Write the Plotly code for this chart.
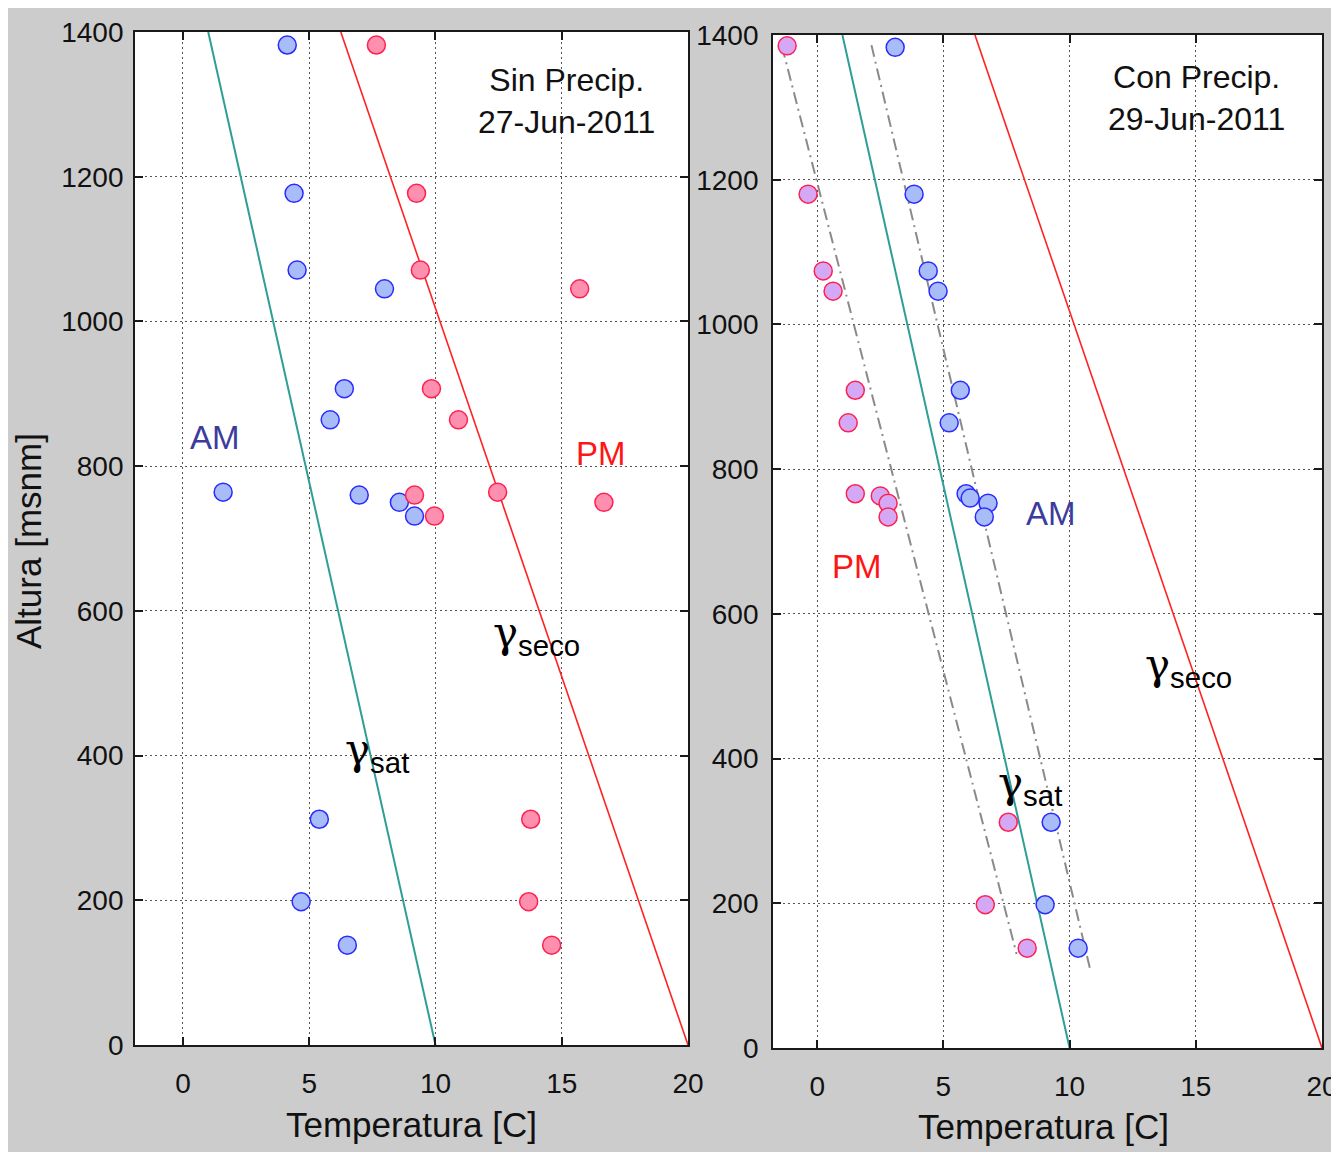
import plotly.graph_objects as go

# ---------------- data ----------------
# Panel 1: Sin Precip. 27-Jun-2011
alt_sin = [1382, 1177, 1071, 1045, 907, 864, 764, 760, 750, 731, 312, 198, 138]
am_sin_T = [4.13, 4.40, 4.52, 7.98, 6.39, 5.83, 1.59, 6.98, 8.57, 9.17, 5.40, 4.68, 6.51]
pm_sin_alt = [1382, 1177, 1071, 1045, 907, 864, 764, 760, 750, 731, 312, 198, 138]
pm_sin_T = [7.66, 9.25, 9.40, 15.71, 9.84, 10.91, 12.46, 9.17, 16.67, 9.96, 13.77, 13.69, 14.60]

# Panel 2: Con Precip. 29-Jun-2011
am_con_alt = [1383, 1180, 1074, 1046, 909, 864, 766, 760, 753, 734, 312, 198, 138]
am_con_T = [3.09, 3.84, 4.40, 4.79, 5.67, 5.23, 5.90, 6.06, 6.77, 6.62, 9.27, 9.03, 10.34]
pm_con_alt = [1385, 1180, 1074, 1046, 909, 864, 766, 763, 753, 734, 312, 198, 138]
pm_con_T = [-1.19, -0.36, 0.24, 0.63, 1.51, 1.23, 1.51, 2.50, 2.81, 2.81, 7.57, 6.66, 8.32]

# Adiabatic reference lines (both panels)
line_alt = [0, 1400]
sat_T = [10.0, 1.0]
seco_T = [20.0, 6.25]

# Fitted dash-dot lines (panel 2)
pm_fit_alt = [1385, 130]
pm_fit_T = [-1.4, 7.9]
am_fit_alt = [1386, 111]
am_fit_T = [2.15, 10.8]

x_ticks = [0, 5, 10, 15, 20]
y_ticks = [0, 200, 400, 600, 800, 1000, 1200, 1400]

# ---------------- styling ----------------
OFF = 8  # page body margin
W, H = 1339 - OFF, 1152 - OFF
BG = "#cccccc"
FONT = "Liberation Sans"
BLUE_FILL, BLUE_EDGE = "#a8bcfa", "#2a2aff"
PINK_FILL, RED_EDGE = "#ff8fae", "#ff2050"
LAV_FILL = "#d5a8f5"
TEAL = "#2e9e96"
RED = "#ff2222"


def px_x(p):
    return (p - OFF) / W


def px_y(p):
    return 1 - (p - OFF) / H


fig = go.Figure()


def add_panel(xa, ya):
    fig.add_trace(go.Scatter(x=sat_T, y=line_alt, mode="lines",
                             line=dict(color=TEAL, width=2), xaxis=xa, yaxis=ya,
                             showlegend=False))
    fig.add_trace(go.Scatter(x=seco_T, y=line_alt, mode="lines",
                             line=dict(color=RED, width=1.6), xaxis=xa, yaxis=ya,
                             showlegend=False))


MS = 18
# panel 1
add_panel("x", "y")
fig.add_trace(go.Scatter(x=am_sin_T, y=alt_sin, mode="markers", xaxis="x", yaxis="y",
                         marker=dict(size=MS, color=BLUE_FILL, line=dict(color=BLUE_EDGE, width=1.5)),
                         showlegend=False))
fig.add_trace(go.Scatter(x=pm_sin_T, y=pm_sin_alt, mode="markers", xaxis="x", yaxis="y",
                         marker=dict(size=MS, color=PINK_FILL, line=dict(color=RED_EDGE, width=1.5)),
                         showlegend=False))

# panel 2
add_panel("x2", "y2")
DASH = "12px,5px,2px,5px"
fig.add_trace(go.Scatter(x=pm_fit_T, y=pm_fit_alt, mode="lines", xaxis="x2", yaxis="y2",
                         line=dict(color="#8a8a8a", width=2, dash=DASH), showlegend=False))
fig.add_trace(go.Scatter(x=am_fit_T, y=am_fit_alt, mode="lines", xaxis="x2", yaxis="y2",
                         line=dict(color="#8a8a8a", width=2, dash=DASH), showlegend=False))
fig.add_trace(go.Scatter(x=am_con_T, y=am_con_alt, mode="markers", xaxis="x2", yaxis="y2",
                         marker=dict(size=MS, color=BLUE_FILL, line=dict(color=BLUE_EDGE, width=1.5)),
                         showlegend=False))
fig.add_trace(go.Scatter(x=pm_con_T, y=pm_con_alt, mode="markers", xaxis="x2", yaxis="y2",
                         marker=dict(size=MS, color=LAV_FILL, line=dict(color=RED_EDGE, width=1.5)),
                         showlegend=False))

axis_common = dict(
    showline=True, linecolor="#1a1a1a", linewidth=1.8, mirror="ticks",
    ticks="inside", ticklen=8, tickcolor="#1a1a1a", tickwidth=1.5,
    showgrid=True, gridcolor="#555555", gridwidth=1, griddash="2px,3px",
    zeroline=False, automargin=False,
    tickfont=dict(family=FONT, size=28, color="#111111"),
)

fig.update_layout(
    width=W, height=H,
    template="none",
    paper_bgcolor=BG, plot_bgcolor="white",
    margin=dict(l=0, r=0, t=0, b=0),
    xaxis=dict(domain=[px_x(135), px_x(688)], range=[-1.9, 20], tickvals=x_ticks,
               anchor="y", ticklabelstandoff=12, **axis_common),
    yaxis=dict(domain=[px_y(1045), px_y(32)], range=[0, 1400], tickvals=y_ticks,
               anchor="x", ticklabelstandoff=4, **axis_common),
    xaxis2=dict(domain=[px_x(773), px_x(1322)], range=[-1.75, 20], tickvals=x_ticks,
                anchor="y2", ticklabelstandoff=12, **axis_common),
    yaxis2=dict(domain=[px_y(1048), px_y(35)], range=[0, 1400], tickvals=y_ticks,
                anchor="x2", ticklabelstandoff=7, **axis_common),
)

C = dict(xanchor="center", yanchor="middle", showarrow=False)
ann = []
# axis titles
ann.append(dict(text="Temperatura [C]", xref="paper", yref="paper", x=px_x(411), y=px_y(1124),
                font=dict(family=FONT, size=35, color="#111111"), **C))
ann.append(dict(text="Temperatura [C]", xref="paper", yref="paper", x=px_x(1043), y=px_y(1126),
                font=dict(family=FONT, size=35, color="#111111"), **C))
ann.append(dict(text="Altura [msnm]", xref="paper", yref="paper", x=px_x(29), y=px_y(541),
                textangle=-90, font=dict(family=FONT, size=35, color="#111111"), **C))

# panel titles
ann.append(dict(text="Sin Precip.<br>27-Jun-2011", xref="x", yref="y", x=15.17, y=1304,
                align="center", font=dict(family=FONT, size=32, color="#111111"), **C))
ann.append(dict(text="Con Precip.<br>29-Jun-2011", xref="x2", yref="y2", x=15.02, y=1313,
                align="center", font=dict(family=FONT, size=32, color="#111111"), **C))

# AM / PM labels
ann.append(dict(text="AM", xref="x", yref="y", x=1.27, y=839,
                font=dict(family=FONT, size=33, color="#3c3c9c"), **C))
ann.append(dict(text="PM", xref="x", yref="y", x=16.55, y=817,
                font=dict(family=FONT, size=33, color="#ff1515"), **C))
ann.append(dict(text="AM", xref="x2", yref="y2", x=9.27, y=739,
                font=dict(family=FONT, size=33, color="#3c3c9c"), **C))
ann.append(dict(text="PM", xref="x2", yref="y2", x=1.58, y=665,
                font=dict(family=FONT, size=33, color="#ff1515"), **C))

# gamma labels
G = "<span style='font-family:DejaVu Serif'>γ</span>"
ann.append(dict(text=G + "<sub>seco</sub>", xref="x", yref="y", x=14.0, y=567,
                font=dict(family=FONT, size=42, color="black"), **C))
ann.append(dict(text=G + "<sub>sat</sub>", xref="x", yref="y", x=7.68, y=405,
                font=dict(family=FONT, size=42, color="black"), **C))
ann.append(dict(text=G + "<sub>seco</sub>", xref="x2", yref="y2", x=14.7, y=527,
                font=dict(family=FONT, size=42, color="black"), **C))
ann.append(dict(text=G + "<sub>sat</sub>", xref="x2", yref="y2", x=8.44, y=363,
                font=dict(family=FONT, size=42, color="black"), **C))

fig.update_layout(annotations=ann)

fig.write_html("out.html")
